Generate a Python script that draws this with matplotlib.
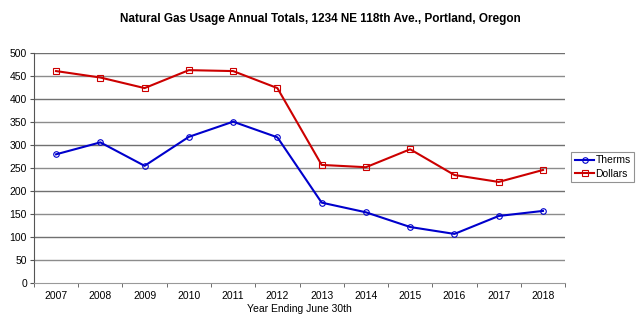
import matplotlib
matplotlib.use("Agg")
import matplotlib.pyplot as plt
import numpy as np

plt.rcParams["font.family"] = ["Liberation Sans", "DejaVu Sans"]

years = ["2007", "2008", "2009", "2010", "2011", "2012",
         "2013", "2014", "2015", "2016", "2017", "2018"]
therms = [280, 306, 255, 318, 351, 317, 175, 154, 122, 107, 146, 157]
dollars = [461, 447, 424, 463, 461, 424, 257, 252, 291, 235, 220, 246]

x = np.arange(len(years))

fig = plt.figure(figsize=(6.4, 3.3), dpi=100)
ax = fig.add_axes([0.053, 0.142, 0.83, 0.697])

# horizontal grid lines
for v in range(50, 501, 50):
    ax.axhline(v, color="#8c8c8c" if v % 100 else "#707070", lw=1.0, zorder=1)

ax.plot(x, therms, color="#0000cc", lw=1.5, marker="o", ms=4,
        mfc="none", mec="#0000cc", mew=0.8, label="Therms", zorder=3)
ax.plot(x, dollars, color="#cc0000", lw=1.5, marker="s", ms=5,
        mfc="none", mec="#cc0000", mew=0.8, label="Dollars", zorder=3)

ax.set_xlim(-0.5, len(years) - 0.5)
ax.set_ylim(0, 500)
ax.set_yticks(range(0, 501, 50))
ax.set_xticks(x)
ax.set_xticklabels(years)
ax.set_xticks(np.arange(-0.5, len(years), 1.0), minor=True)

ax.tick_params(axis="x", which="major", length=0, labelsize=7.5, pad=6)
ax.tick_params(axis="x", which="minor", length=3, color="#555555", direction="out")
ax.tick_params(axis="y", length=3, color="#555555", labelsize=7.5, pad=2)

for s in ["top", "right"]:
    ax.spines[s].set_visible(False)
ax.spines["left"].set_color("#555555")
ax.spines["bottom"].set_color("#999999")

ax.set_xlabel("Year Ending June 30th", fontsize=7.5, labelpad=2)
fig.suptitle("Natural Gas Usage Annual Totals, 1234 NE 118th Ave., Portland, Oregon",
             fontsize=8.5, fontweight="bold", y=0.96)

leg = ax.legend(loc="center left", bbox_to_anchor=(1.012, 0.505), fontsize=7.5,
                frameon=True, fancybox=False, handlelength=1.8,
                borderpad=0.35, borderaxespad=0, labelspacing=0.35,
                handletextpad=0.15)
leg.get_frame().set_edgecolor("#777777")
leg.get_frame().set_linewidth(0.8)

fig.savefig("out.png", dpi=100)
